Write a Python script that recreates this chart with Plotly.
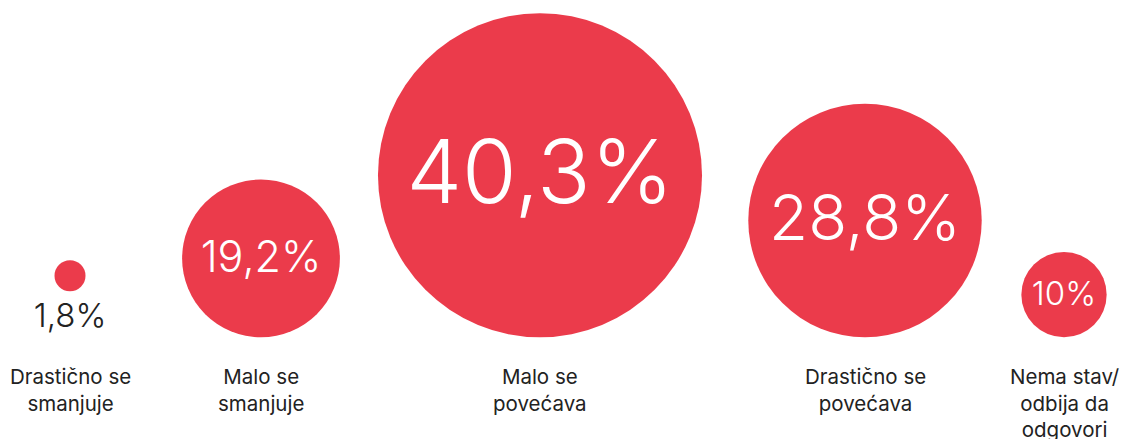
import plotly.graph_objects as go

# ---- data ----
categories = [
    "Drastično se<br>smanjuje",
    "Malo se<br>smanjuje",
    "Malo se<br>povećava",
    "Drastično se<br>povećava",
    "Nema stav/<br>odbija da<br>odgovori",
]
values = [1.8, 19.2, 40.3, 28.8, 10.0]
value_labels = ["1,8%", "19,2%", "40,3%", "28,8%", "10%"]

# ---- layout constants ----
W, H = 1123, 439
x_centers = [70, 261, 540, 865, 1064]
BASE = 337.3          # bottom line of circles
MIN_D = 31            # minimum circle diameter
RED = "#EB3B4B"
DARK = "#222222"

diam = [max(MIN_D, 6.5 + 7.88 * v) for v in values]
outside = [d < 60 for d in diam]
OUT_GAP = 46
cy = [BASE - d / 2 - (OUT_GAP if o else 0) for d, o in zip(diam, outside)]
font_sizes = [max(33, 0.273 * d) for d in diam]

fig = go.Figure()

# circles
fig.add_trace(go.Scatter(
    x=x_centers, y=cy,
    mode="markers",
    marker=dict(size=diam, sizemode="diameter", color=RED, line=dict(width=0), opacity=1),
    hoverinfo="skip", cliponaxis=False,
))

# value labels (inside big circles, below small ones)
ty = [c + d / 2 + 27 if o else c + 0.06 * f
      for c, d, o, f in zip(cy, diam, outside, font_sizes)]
fig.add_trace(go.Scatter(
    x=x_centers, y=ty, mode="text", text=value_labels, textposition="middle center",
    textfont=dict(family="Inter", size=font_sizes,
                  color=[DARK if o else "white" for o in outside], weight=300),
    hoverinfo="skip", cliponaxis=False,
))

# category labels
for x, c in zip(x_centers, categories):
    fig.add_annotation(
        x=x, y=362, xref="x", yref="y", text=c, showarrow=False,
        xanchor="center", yanchor="top", align="center",
        font=dict(family="Inter", size=20.5, color=DARK),
    )

fig.update_layout(
    width=W, height=H,
    margin=dict(l=0, r=0, t=0, b=0),
    paper_bgcolor="white", plot_bgcolor="white",
    showlegend=False,
    hovermode=False,
    xaxis=dict(range=[0, W], visible=False, fixedrange=True),
    yaxis=dict(range=[H, 0], visible=False, fixedrange=True),
)

fig.write_html(
    "out.html",
    config={"displayModeBar": False, "staticPlot": True},
    post_script="document.body.style.margin='0';document.body.style.overflow='hidden';",
)
